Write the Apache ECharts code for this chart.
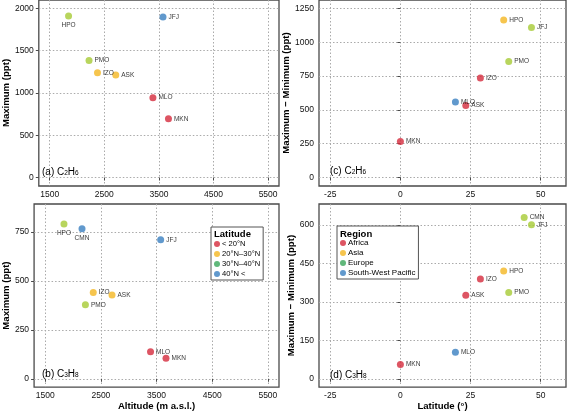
<!DOCTYPE html>
<html><head><meta charset="utf-8">
<script src="https://cdn.jsdelivr.net/npm/echarts@6/dist/echarts.min.js"></script>
<style>html,body{margin:0;padding:0;background:#fff}#c{width:567px;height:412px}</style>
</head><body><div id="c"></div>
<script>
// ---- data ----
const stationsA = ['HPO','JFJ','PMO','IZO','ASK','MLO','MKN'];
const altitudeA = [1845,3575,2220,2375,2710,3390,3675];
const maxC2H6   = [1910,1900,1385,1240,1212,945,694];
const groupA    = [2,3,2,1,1,0,0];

const stationsB = ['HPO','CMN','JFJ','IZO','ASK','PMO','MLO','MKN'];
const altitudeB = [1837,2161,3574,2363,2700,2222,3392,3670];
const maxC3H8   = [790,766,710,440,428,378,138,105];
const groupB    = [2,3,3,1,1,2,0,0];

const stationsC = ['HPO','JFJ','PMO','IZO','ASK','MLO','MKN'];
const latitudeC = [36.8,46.7,38.6,28.5,23.3,19.6,0];
const rangeC2H6 = [1164,1110,857,735,532,559,267];
const groupC    = [1,2,2,0,0,3,0];

const stationsD = ['CMN','JFJ','HPO','IZO','ASK','PMO','MLO','MKN'];
const latitudeD = [44.1,46.7,36.8,28.5,23.3,38.6,19.6,0];
const rangeC3H8 = [630,601,421,390,326,337,104,56];
const groupD    = [2,2,1,0,0,2,3,0];

const latitudeClasses = ['< 20°N','20°N–30°N','30°N–40°N','40°N <'];
const regionClasses   = ['Africa','Asia','Europe','South-West Pacific'];
const altitudeTicks = [1500,2500,3500,4500,5500];
const latitudeTicks = [-25,0,25,50];
const ticksA = [0,500,1000,1500,2000];
const ticksB = [0,250,500,750];
const ticksC = [0,250,500,750,1000,1250];
const ticksD = [0,150,300,450,600];

// ---- styles ----
const FONT = 'Liberation Sans, Arial, Helvetica, sans-serif';
const POINT_COLORS  = ['#d42a3c','#f4b622','#a6cb35','#3a7fc1'];
const LEGEND_COLORS = ['#d42a3c','#f4b622','#3aa65a','#3a7fc1'];

const chart = echarts.init(document.getElementById('c'), null, {renderer:'canvas'});

const grids = [
  {left:32, top:-1, width:247, height:187},
  {left:32, top:204, width:247, height:187},
  {left:319, top:-1, width:247, height:187},
  {left:319, top:204, width:247, height:187}
].map(g => Object.assign(g, {show:true, borderColor:'#4a4a4a', borderWidth:1.3, backgroundColor:'transparent'}));

function axis(kind, gi, min, max, ticks, name, gap) {
  return {
    type:'value', gridIndex:gi, min, max,
    axisLine:{show:false},
    axisTick:{show:true, length:3, customValues:ticks, lineStyle:{color:'#4a4a4a', width:1}},
    axisLabel:{customValues:ticks, formatter:v=>String(v), margin:kind==='x'?4:5, fontSize:8.5, color:'#111', fontFamily:FONT},
    splitLine:{show:true, lineStyle:{type:[1.5,2], color:'#aaaaaa', width:1}},
    name: name || '', nameLocation:'middle', nameGap:gap || 0,
    nameTextStyle:{fontSize:9.6, fontWeight:'bold', color:'#000', fontFamily:FONT}
  };
}

const xAxis = [
  axis('x',0,1300,5700,altitudeTicks),
  axis('x',1,1300,5700,altitudeTicks,'Altitude (m a.s.l.)',11),
  axis('x',2,-29,59,latitudeTicks),
  axis('x',3,-29,59,latitudeTicks,'Latitude (°)',11)
];
const yAxis = [
  axis('y',0,-100,2100,ticksA,'Maximum (ppt)',21),
  axis('y',1,-42.5,892.5,ticksB,'Maximum (ppt)',21),
  axis('y',2,-62.5,1312.5,ticksC,'Maximum − Minimum (ppt)',22),
  axis('y',3,-32.5,682.5,ticksD,'Maximum − Minimum (ppt)',22)
];

const labelBelow = [['HPO'],['HPO','CMN'],[],[]];
const labelRaised = [[],[],['MLO'],[]];

// points
function points(i, xs, ys, names, groups) {
  return {
    type:'scatter', xAxisIndex:i, yAxisIndex:i, symbolSize:7, z:3,
    data: xs.map((x,k)=>({value:[x, ys[k]], name:names[k], itemStyle:{color:POINT_COLORS[groups[k]]}})),
    emphasis:{disabled:true}, silent:true
  };
}
// station name labels drawn above all points
function names(i, xs, ys, nm) {
  return {
    type:'scatter', xAxisIndex:i, yAxisIndex:i, symbolSize:7, z:5,
    itemStyle:{color:'transparent'},
    data: xs.map((x,k)=>({
      value:[x, ys[k]], name:nm[k],
      label:{position: labelBelow[i].includes(nm[k]) ? 'bottom' : 'right',
             offset: labelRaised[i].includes(nm[k]) ? [0,-2] : [0,0]}
    })),
    label:{show:true, formatter:p=>p.name, fontSize:6.5, color:'#000', distance:2, fontFamily:FONT},
    labelLayout:{hideOverlap:false},
    emphasis:{disabled:true}, silent:true
  };
}

const series = [
  points(0, altitudeA, maxC2H6, stationsA, groupA),
  points(1, altitudeB, maxC3H8, stationsB, groupB),
  points(2, latitudeC, rangeC2H6, stationsC, groupC),
  points(3, latitudeD, rangeC3H8, stationsD, groupD),
  names(0, altitudeA, maxC2H6, stationsA),
  names(1, altitudeB, maxC3H8, stationsB),
  names(2, latitudeC, rangeC2H6, stationsC),
  names(3, latitudeD, rangeC3H8, stationsD)
];
latitudeClasses.forEach((n,i)=>series.push({type:'scatter', name:n, xAxisIndex:1, yAxisIndex:1, data:[], itemStyle:{color:LEGEND_COLORS[i]}}));
regionClasses.forEach((n,i)=>series.push({type:'scatter', name:n, xAxisIndex:3, yAxisIndex:3, data:[], itemStyle:{color:LEGEND_COLORS[i]}}));

const legendBase = {
  orient:'vertical', icon:'circle', itemWidth:6, itemHeight:6, itemGap:2,
  borderColor:'#555', borderWidth:1, backgroundColor:'#fff',
  padding:[13,3,2,3], selectedMode:false,
  textStyle:{fontSize:7.6, color:'#000', fontFamily:FONT, padding:[0,0,0,-3], lineHeight:6}
};
const legend = [
  Object.assign({}, legendBase, {left:211, top:227, data:latitudeClasses}),
  Object.assign({}, legendBase, {left:337, top:226, data:regionClasses, textStyle:Object.assign({}, legendBase.textStyle, {fontSize:8})})
];

function panelTitle(letter, sub1, sub2, x, y) {
  return {type:'text', left:x, top:y, z:10, style:{
    text:`{n|(${letter}) C}{s|${sub1}}{n|H}{s|${sub2}}`,
    rich:{n:{fontSize:10, fontFamily:FONT, fill:'#000', verticalAlign:'bottom', lineHeight:12},
          s:{fontSize:6.5, fontFamily:FONT, fill:'#000', verticalAlign:'bottom', lineHeight:7}}
  }};
}
const graphic = [
  panelTitle('a','2','6',42,167),
  panelTitle('b','3','8',42,369),
  panelTitle('c','2','6',330,166),
  panelTitle('d','3','8',330,370),
  {type:'text', left:214, top:229, z:20, style:{text:'Latitude', fontSize:9.5, fontWeight:'bold', fontFamily:FONT, fill:'#000'}},
  {type:'text', left:340, top:229, z:20, style:{text:'Region', fontSize:9.5, fontWeight:'bold', fontFamily:FONT, fill:'#000'}}
];

chart.setOption({animation:false, backgroundColor:'#fff', grid:grids, xAxis, yAxis, series, legend, graphic});
</script></body></html>
